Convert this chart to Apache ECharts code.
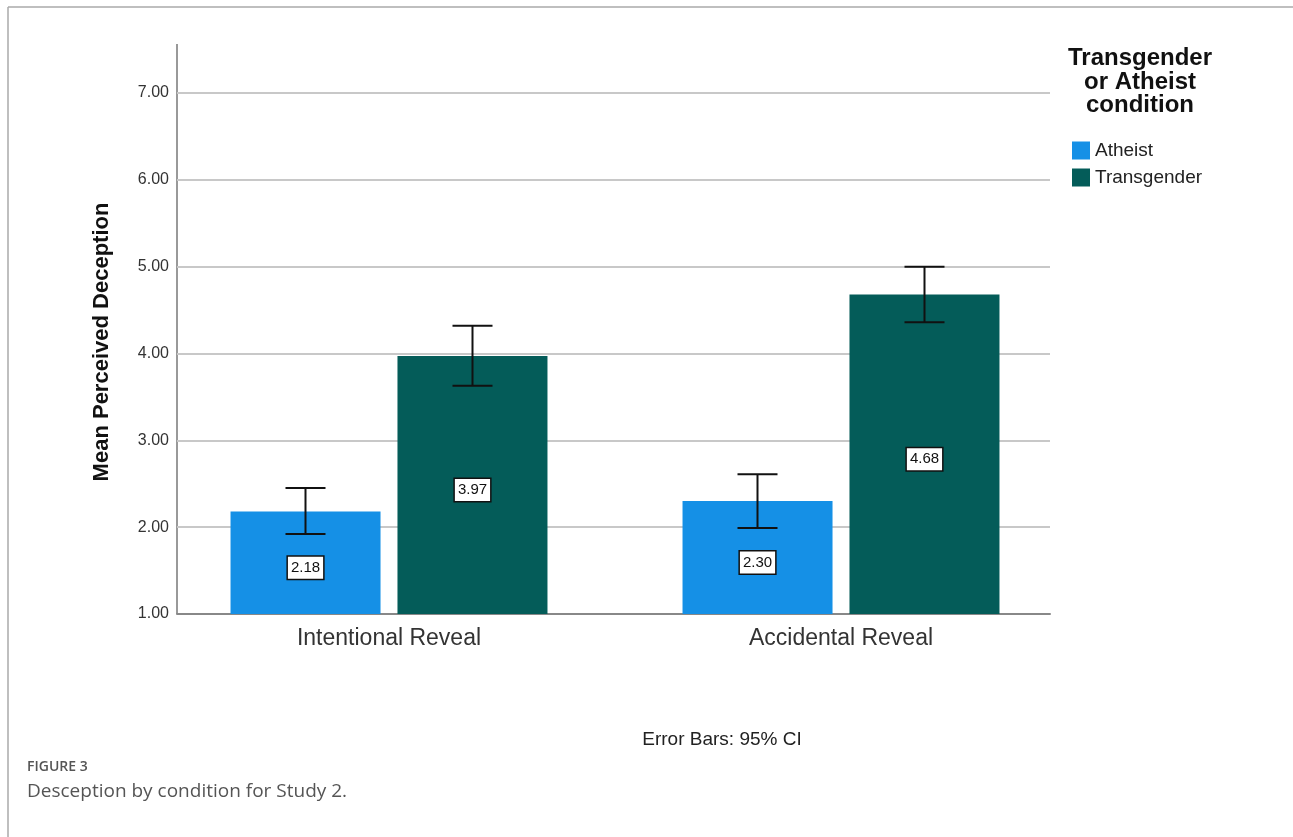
<!DOCTYPE html>
<html>
<head>
<meta charset="utf-8">
<title>Deception by condition</title>
<script src="https://cdn.jsdelivr.net/npm/echarts@6/dist/echarts.min.js"></script>
<style>
  html, body { margin: 0; padding: 0; background: #fff; }
  #chart { width: 1293px; height: 837px; }
</style>
</head>
<body>
<div id="chart"></div>
<script>
var categories = ['Intentional Reveal', 'Accidental Reveal'];
var seriesNames = ['Atheist', 'Transgender'];
var atheistMeans = [2.18, 2.30];
var transMeans = [3.97, 4.68];
var atheistLow = [1.92, 1.99];
var atheistHigh = [2.45, 2.61];
var transLow = [3.63, 4.36];
var transHigh = [4.32, 5.00];
var yMin = 1;
var yMax = 7;

var atheistColor = '#1590e6';
var transColor = '#045c59';
var barWidth = 150;
var barOffset = 83.5; // (barWidth + gap) / 2
var sansFont = 'Arial, "Liberation Sans", sans-serif';

function errorItem(offset) {
  return function (params, api) {
    var x = api.coord([api.value(0), api.value(1)])[0] + offset;
    var lo = api.coord([api.value(0), api.value(1)])[1];
    var hi = api.coord([api.value(0), api.value(2)])[1];
    var half = 20;
    var st = { stroke: '#111', lineWidth: 2 };
    return {
      type: 'group',
      children: [
        { type: 'line', shape: { x1: x, y1: lo, x2: x, y2: hi }, style: st },
        { type: 'line', shape: { x1: x - half, y1: lo, x2: x + half, y2: lo }, style: st },
        { type: 'line', shape: { x1: x - half, y1: hi, x2: x + half, y2: hi }, style: st }
      ]
    };
  };
}

function errData(lo, hi) {
  var out = [];
  for (var i = 0; i < categories.length; i++) {
    out.push([i, lo[i], hi[i]]);
  }
  return out;
}

var labelStyle = {
  show: true,
  position: 'inside',
  offset: [0, 5],
  formatter: function (p) { return p.value.toFixed(2); },
  backgroundColor: '#fff',
  borderColor: '#111',
  borderWidth: 1.5,
  padding: [4, 3, 3, 3],
  fontFamily: sansFont,
  fontSize: 15,
  color: '#111'
};

var myChart = echarts.init(document.getElementById('chart'));
var option = {
  backgroundColor: '#fff',
  animation: false,
  grid: [
    { left: 177, right: 243, top: 93, bottom: 223 },
    { left: 163, right: 226, top: 93, bottom: 223 }
  ],
  legend: {
    data: seriesNames,
    orient: 'vertical',
    left: 1067,
    top: 136,
    icon: 'rect',
    itemWidth: 18,
    itemHeight: 18,
    itemGap: 8,
    textStyle: { fontFamily: sansFont, fontSize: 19, color: '#222', padding: [0, 0, 0, 0] }
  },
  xAxis: [
    {
      gridIndex: 0,
      type: 'category',
      data: categories,
      axisLine: { lineStyle: { color: '#888', width: 2 } },
      axisTick: { show: false },
      axisLabel: { show: false },
      splitLine: { show: false }
    },
    {
      gridIndex: 1,
      type: 'category',
      data: categories,
      axisLine: { show: false },
      axisTick: { show: false },
      axisLabel: {
        margin: 13,
        fontFamily: sansFont,
        fontSize: 23,
        color: '#333'
      }
    }
  ],
  yAxis: [
    {
      gridIndex: 0,
      type: 'value',
      min: yMin,
      max: yMax,
      interval: 1,
      axisLine: { show: false },
      axisTick: { show: false },
      axisLabel: {
        margin: 8,
        fontFamily: sansFont,
        fontSize: 16,
        color: '#333',
        padding: [6, 0, 0, 0],
        formatter: function (v) { return v.toFixed(2); }
      },
      splitLine: { lineStyle: { color: '#c8c8c8', width: 2 } }
    },
    {
      gridIndex: 1,
      type: 'value',
      min: yMin,
      max: yMax,
      interval: 1,
      show: false,
      splitLine: { show: false }
    }
  ],
  series: [
    {
      name: 'Atheist',
      type: 'bar',
      xAxisIndex: 1,
      yAxisIndex: 1,
      data: atheistMeans,
      barWidth: barWidth,
      barGap: '11.3%',
      itemStyle: { color: atheistColor },
      label: labelStyle,
      z: 2
    },
    {
      name: 'Transgender',
      type: 'bar',
      xAxisIndex: 1,
      yAxisIndex: 1,
      data: transMeans,
      barWidth: barWidth,
      barGap: '11.3%',
      itemStyle: { color: transColor },
      label: labelStyle,
      z: 2
    },
    {
      type: 'custom',
      xAxisIndex: 1,
      yAxisIndex: 1,
      renderItem: errorItem(-barOffset),
      data: errData(atheistLow, atheistHigh),
      z: 5
    },
    {
      type: 'custom',
      xAxisIndex: 1,
      yAxisIndex: 1,
      renderItem: errorItem(barOffset),
      data: errData(transLow, transHigh),
      z: 5
    }
  ],
  graphic: [
    // figure frame
    { type: 'line', shape: { x1: 8, y1: 7, x2: 1293, y2: 7 }, style: { stroke: '#aaa', lineWidth: 1.5 } },
    { type: 'line', shape: { x1: 8, y1: 7, x2: 8, y2: 837 }, style: { stroke: '#aaa', lineWidth: 1.5 } },
    // y axis line, extends above the top tick
    { type: 'line', shape: { x1: 177, y1: 44, x2: 177, y2: 614 }, style: { stroke: '#999', lineWidth: 2 } },
    {
      type: 'text', x: 102, y: 342, rotation: Math.PI / 2,
      style: {
        text: 'Mean Perceived Deception',
        align: 'center', verticalAlign: 'middle',
        font: 'bold 22px ' + sansFont, fill: '#111'
      }
    },
    {
      type: 'text', x: 1140, y: 47,
      style: {
        text: 'Transgender\nor Atheist\ncondition',
        align: 'center', verticalAlign: 'top',
        lineHeight: 23.5,
        font: 'bold 24px ' + sansFont, fill: '#111'
      }
    },
    {
      type: 'text', x: 722, y: 740,
      style: {
        text: 'Error Bars: 95% CI', align: 'center', verticalAlign: 'middle',
        font: '19px ' + sansFont, fill: '#222'
      }
    },
    {
      type: 'text', x: 27, y: 767,
      style: { text: 'FIGURE 3', verticalAlign: 'middle', font: '600 14px "Open Sans"', fill: '#555' }
    },
    {
      type: 'text', x: 27, y: 792,
      style: { text: 'Desception by condition for Study 2.', verticalAlign: 'middle', font: '19px "Open Sans"', fill: '#555' }
    }
  ]
};
myChart.setOption(option);
</script>
</body>
</html>
